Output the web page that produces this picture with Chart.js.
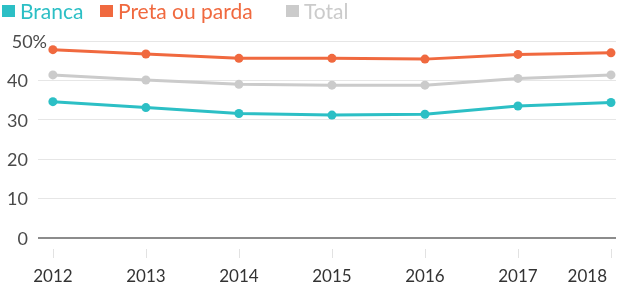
<!DOCTYPE html>
<html><head><meta charset="utf-8">
<script src="https://cdn.jsdelivr.net/npm/chart.js@4"></script>
<style>html,body{margin:0;padding:0;background:#fff}#w{width:627px;height:307px;position:relative}</style>
</head><body><div id="w"><canvas id="c"></canvas></div>
<script>
const years = [2012, 2013, 2014, 2015, 2016, 2017, 2018];
const branca = [34.6, 33.1, 31.6, 31.2, 31.4, 33.5, 34.4];
const preta = [47.8, 46.7, 45.6, 45.6, 45.4, 46.6, 47.0];
const total = [41.4, 40.1, 39.0, 38.8, 38.8, 40.5, 41.4];
const yTicks = [0, 10, 20, 30, 40, 50];
const yTickLabels = ['0', '10', '20', '30', '40', '50%'];
const seriesNames = ['Branca', 'Preta ou parda', 'Total'];
const colors = ['#2cbfc5', '#f0693f', '#cbcbcb'];
const FONT = 'Lato, "Open Sans", sans-serif';
const LEGEND_X = [2, 100, 286];

const deco = {
  id: 'deco',
  beforeDatasetsDraw(chart) {
    const ctx = chart.ctx, a = chart.chartArea, xs = chart.scales.x, ys = chart.scales.y;
    ctx.save();
    ctx.strokeStyle = '#e2e2e2'; ctx.lineWidth = 1;
    years.forEach(v => {
      const px = Math.round(xs.getPixelForValue(v)) + 0.5;
      ctx.beginPath(); ctx.moveTo(px, a.bottom + 11); ctx.lineTo(px, a.bottom + 20); ctx.stroke();
    });
    ctx.font = '17px ' + FONT; ctx.fillStyle = '#333'; ctx.textBaseline = 'middle'; ctx.textAlign = 'center';
    years.forEach(v => {
      const t = String(v);
      const w = ctx.measureText(t).width;
      let px = xs.getPixelForValue(v);
      if (px + w / 2 > chart.width - 20) px = chart.width - 20 - w / 2;
      ctx.fillText(t, px, a.bottom + 39);
    });
    ctx.font = '18px ' + FONT; ctx.fillStyle = '#4a4a4a'; ctx.textAlign = 'right';
    yTicks.forEach((v, i) => {
      const py = ys.getPixelForValue(v);
      const t = yTickLabels[i];
      let rx = a.left - 10;
      if (t.indexOf('%') >= 0) {
        rx = a.left + 9;
        const w = ctx.measureText(t).width;
        ctx.fillStyle = '#fff'; ctx.fillRect(rx - w - 2, py - 6, w + 5, 12);
        ctx.fillStyle = '#4a4a4a';
      }
      ctx.fillText(t, rx, py + 1);
    });
    ctx.restore();
  },
  afterDraw(chart) {
    const ctx = chart.ctx;
    ctx.save();
    ctx.font = '21px ' + FONT; ctx.textBaseline = 'middle'; ctx.textAlign = 'left';
    seriesNames.forEach((n, i) => {
      const x = LEGEND_X[i];
      ctx.fillStyle = colors[i];
      ctx.fillRect(x, 5, 13, 12);
      ctx.fillText(n, x + 18, 12);
    });
    ctx.restore();
  }
};

const mk = (label, data, color) => ({
  label, data: data.map((v, i) => ({ x: years[i], y: v })),
  borderColor: color, backgroundColor: color, pointBackgroundColor: color,
  borderWidth: 3, pointRadius: 4.5, pointHoverRadius: 4.5, pointBorderWidth: 0, tension: 0, clip: false
});

new Chart(document.getElementById('c'), {
  type: 'line',
  data: { datasets: [mk(seriesNames[2], total, colors[2]), mk(seriesNames[0], branca, colors[0]), mk(seriesNames[1], preta, colors[1])] },
  options: {
    responsive: true, maintainAspectRatio: false, animation: false,
    layout: { padding: { left: 38, right: 11, top: 41, bottom: 69 } },
    plugins: { legend: { display: false }, tooltip: { enabled: false } },
    scales: {
      x: { type: 'linear', min: 2011.84, max: 2018.054, display: false },
      y: {
        min: 0, max: 50, display: true,
        afterFit: s => { s.width = 0; },
        afterBuildTicks: s => { s.ticks = yTicks.map(v => ({ value: v })); },
        ticks: { display: false },
        border: { display: false },
        grid: {
          drawTicks: false,
          color: c => c.tick && c.tick.value === 0 ? '#8c8c8c' : '#e6e6e6',
          lineWidth: c => c.tick && c.tick.value === 0 ? 2 : 1
        }
      }
    }
  },
  plugins: [deco]
});
</script></body></html>
